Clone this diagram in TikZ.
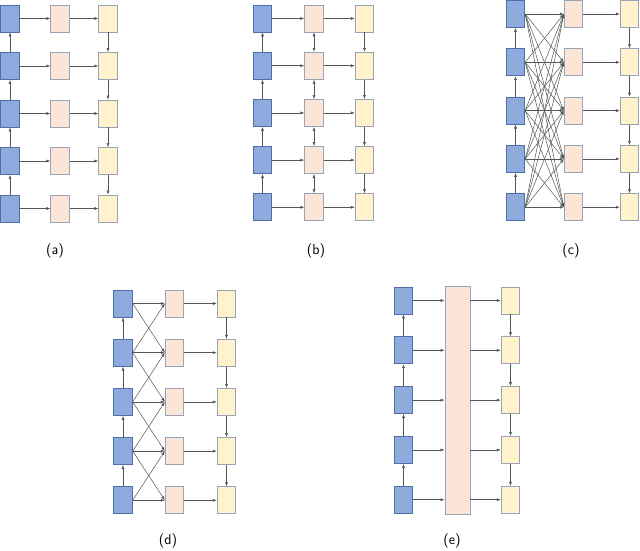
\documentclass[tikz,border=0pt]{standalone}
\usetikzlibrary{arrows.meta}
\definecolor{bf}{HTML}{8FAADC}\definecolor{bd}{HTML}{4F6FA8}
\definecolor{pf}{HTML}{FBE5D6}\definecolor{yf}{HTML}{FFF2CC}
\definecolor{gd}{HTML}{9AA3B5}\definecolor{ln}{HTML}{555555}
\begin{document}
\begin{tikzpicture}[x=1pt,y=-1pt,
 box/.style={draw,line width=0.8pt,minimum width=18.5pt,minimum height=27pt,inner sep=0pt},
 bb/.style={box,fill=bf,draw=bd},
 pb/.style={box,fill=pf,draw=gd},
 yb/.style={box,fill=yf,draw=gd},
 ar/.style={draw=ln,line width=0.5pt,-{Latex[length=4pt,width=3pt]}},
 dar/.style={draw=ln,line width=0.5pt,{Latex[length=4pt,width=3pt]}-{Latex[length=4pt,width=3pt]}},
 lab/.style={font=\sffamily\Large}]
\useasboundingbox (0,0) rectangle (640,551);
\newcommand{\mkcol}[5]{%
 \foreach \i in {1,...,5}{\node[#2] (#1\i) at (#3,{#4+(\i-1)*#5}) {};}}
% (a)
\mkcol{ab}{bb}{10}{18.5}{47.5}\mkcol{ap}{pb}{60}{18.5}{47.5}\mkcol{ay}{yb}{108}{18.5}{47.5}
% (b)
\mkcol{bb}{bb}{262.5}{18.5}{47.2}\mkcol{bp}{pb}{314}{18.5}{47.2}\mkcol{by}{yb}{364.5}{18.5}{47.2}
% (c)
\mkcol{cb}{bb}{515.5}{14}{48.3}\mkcol{cp}{pb}{573.5}{14}{48.3}\mkcol{cy}{yb}{629.5}{14}{48.3}
% (d)
\mkcol{db}{bb}{123}{303.5}{49.2}\mkcol{dp}{pb}{174.5}{303.5}{49.2}\mkcol{dy}{yb}{226.5}{303.5}{49.2}
% (e)
\mkcol{eb}{bb}{403.5}{300.5}{49.8}\mkcol{ey}{yb}{510.5}{300.5}{49.8}
\node[box,fill=pf,draw=gd,minimum width=25pt,minimum height=228pt] (ep) at (457.5,400) {};
\foreach \p in {a,b,c,d}{
 \foreach \i in {1,...,5}{\draw[ar] (\p p\i) -- (\p y\i);}
 \foreach \i/\j in {2/1,3/2,4/3,5/4}{\draw[ar] (\p b\i) -- (\p b\j); \draw[ar] (\p y\j) -- (\p y\i);}}
\foreach \i in {1,...,5}{\draw[ar] (ab\i) -- (ap\i); \draw[ar] (bb\i) -- (bp\i); \draw[ar] (db\i) -- (dp\i);
 \draw[ar] (eb\i.east) -- (eb\i.east -| ep.west); \draw[ar] (ey\i.west -| ep.east) -- (ey\i.west);
 \foreach \j in {1,...,5}{\draw[ar] (cb\i.east) -- (cp\j.west);}}
\foreach \i/\j in {2/1,3/2,4/3,5/4}{\draw[dar] (bp\i) -- (bp\j); \draw[ar] (eb\i) -- (eb\j); \draw[ar] (ey\j) -- (ey\i);
 \draw[ar] (db\i.east) -- (dp\j.west); \draw[ar] (db\j.east) -- (dp\i.west);}
\node[lab] (la) at (55,251) {(a)};
\node[lab] (lb) at (316,251) {(b)};
\node[lab] (lc) at (571,251) {(c)};
\node[lab] (ld) at (168,541) {(d)};
\node[lab] (le) at (452,541) {(e)};
\end{tikzpicture}
\end{document}
